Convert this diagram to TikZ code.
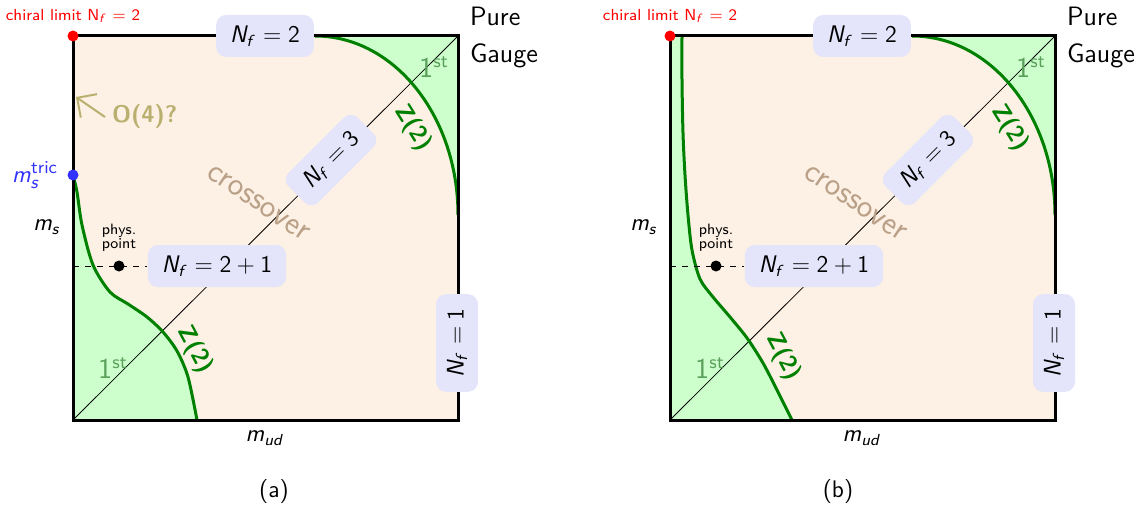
\documentclass[tikz,border=0pt]{standalone}
\usepackage{amsmath}
\usepackage{tikz}
\usetikzlibrary{arrows.meta,positioning}
\renewcommand{\familydefault}{\sfdefault}
\SetSymbolFont{letters}{normal}{OT1}{cmss}{m}{sl}
\SetSymbolFont{operators}{normal}{OT1}{cmss}{m}{n}
\SetSymbolFont{letters}{bold}{OT1}{cmss}{bx}{sl}
\SetSymbolFont{operators}{bold}{OT1}{cmss}{bx}{n}
\definecolor{cPeach}{RGB}{253,240,228}
\definecolor{cFirst}{RGB}{204,255,204}
\definecolor{cLine}{RGB}{0,128,0}
\definecolor{cFirstTxt}{RGB}{90,160,90}
\definecolor{cLav}{RGB}{228,228,250}
\definecolor{cCross}{RGB}{185,160,135}
\definecolor{cOlive}{RGB}{185,175,110}
\definecolor{cTric}{RGB}{50,50,255}
\tikzset{
  nfbox/.style={rectangle, rounded corners=5pt, fill=cLav, inner xsep=7pt, minimum height=21pt, font=\large},
  trans/.style={line width=1.5pt, draw=cLine},
  sqframe/.style={line width=1.5pt, draw=black},
  zlabel/.style={font=\large\bfseries, text=cLine},
  first/.style={font=\fontsize{13.5}{16}\selectfont, text=cFirstTxt},
  dot/.style={circle, inner sep=0pt, minimum size=5.5pt},
  axlabel/.style={font=\large},
  o4arrow/.style={-{Straight Barb[length=2.5mm]}, line width=1pt, draw=cOlive}
}

\begin{document}
\begin{tikzpicture}[x=0.5pt, y=-0.5pt]
  \useasboundingbox (0,0) rectangle (1140,508);
  \foreach \p/\dx/\zx/\zy/\capx in {a/0/195/350/274, b/597/186/357/241}{
    \begin{scope}[shift={(\dx,0)}]
      \coordinate (orig\p) at (73,420);
      \coordinate (pg\p) at (458,36);
      \coordinate (msline\p) at (73,266);
      % regions
      \fill[cPeach] (73,36) rectangle (458,420);
      \fill[cFirst] (315,36) .. controls (394,36) and (458,116) .. (458,215) -- (458,36) -- cycle;
      \ifnum\dx=0
        \fill[cFirst] (73,420) -- plot[smooth] coordinates {(73,175) (77,192) (82,225) (93,265) (110,292) (128,304) (147,317) (163,332) (177,351) (188,377) (197,420)} -- cycle;
      \else
        \fill[cFirst] (73,420) -- (73,36) -- plot[smooth] coordinates {(85,36) (85,80) (86,133) (88,175) (91,215) (95,250) (103,279) (116,297) (133,317) (150,338) (166,363) (180,390) (195,420)} -- cycle;
      \fi
      \draw[thin] (orig\p) -- (pg\p);
      % transition lines
      \draw[trans] (315,36) .. controls (394,36) and (458,116) .. (458,215);
      \ifnum\dx=0
        \draw[trans] plot[smooth] coordinates {(73,175) (77,192) (82,225) (93,265) (110,292) (128,304) (147,317) (163,332) (177,351) (188,377) (197,420)};
      \else
        \draw[trans] plot[smooth] coordinates {(85,36) (85,80) (86,133) (88,175) (91,215) (95,250) (103,279) (116,297) (133,317) (150,338) (166,363) (180,390) (195,420)};
      \fi
      \draw[sqframe] (73,36) rectangle (458,420);
      % labels
      \node[nfbox] (nftwo\p) at (265,36) {$N_f=2$};
      \node[nfbox, rotate=90] (nfone\p) at (457,343) {$N_f=1$};
      \node[nfbox, rotate=45] (nfthree\p) at (331,160) {$N_f=3$};
      \node[nfbox] (nftwoone\p) at (217,266) {$N_f=2+1$};
      \node[dot, fill=black] (phys\p) at (119,266) {};
      \draw[dashed] (msline\p) -- (nftwoone\p.west);
      \node[font=\fontsize{7.5}{7}\selectfont, align=center, above=1pt of phys\p] (physlbl\p) {phys.\\point};
      \node[font=\fontsize{16.5}{19}\selectfont, text=cCross, rotate=-34] (cross\p) at (258,203) {crossover};
      \node[zlabel, rotate=-62] (zlow\p) at (\zx,\zy) {Z(2)};
      \node[zlabel, rotate=-58] (ztop\p) at (413,128) {Z(2)};
      \node[first] (firstlow\p) at (113,368) {$1^{\text{st}}$};
      \node[first] (firsttop\p) at (434,67) {$1^{\text{st}}$};
      \node[dot, fill=red] (chiral\p) at (73,36) {};
      \node[font=\footnotesize, text=red] (chirallbl\p) at (73,16) {chiral limit N$_f$ = 2};
      \node[axlabel] (ms\p) at (47,227) {$m_s$};
      \node[axlabel] (mud\p) at (265,438) {$m_{ud}$};
      \node[font=\fontsize{13.3}{16}\selectfont, anchor=west] (pure\p) at (463,16) {Pure};
      \node[font=\fontsize{13.3}{16}\selectfont, anchor=west] (gauge\p) at (463,56) {Gauge};
      \node[font=\large] (cap\p) at (\capx,492) {(\p)};
    \end{scope}
  }
  % only in (a)
  \node[font=\large\bfseries, text=cOlive, anchor=west] (ofour) at (105,117) {O(4)?};
  \coordinate (ofourtip) at (76,97);
  \draw[o4arrow] (ofour.west) -- (ofourtip);
  \node[dot, fill=cTric] (tric) at (73,175) {};
  \node[font=\fontsize{13}{16}\selectfont, text=cTric, left=1pt of tric] (triclbl) {$m_s^{\text{tric}}$};
\end{tikzpicture}
\end{document}
